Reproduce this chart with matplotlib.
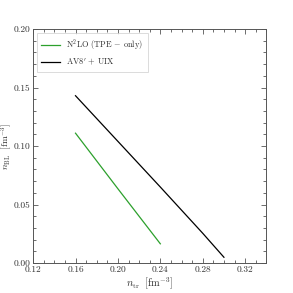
import numpy as np
import matplotlib
matplotlib.use('Agg')
import matplotlib.pyplot as plt
from matplotlib.ticker import MultipleLocator

plt.rcParams['font.family'] = 'serif'
plt.rcParams['font.serif'] = ['cmr10']
plt.rcParams['mathtext.fontset'] = 'cm'
plt.rcParams['axes.formatter.use_mathtext'] = True
plt.rcParams['font.size'] = 6.5

# N2LO (TPE-only)
n_tr_n2lo = [0.16, 0.20, 0.24]
n_bl_n2lo = [0.111, 0.0635, 0.0165]

# AV8' + UIX
n_tr_av8 = [0.16, 0.20, 0.24, 0.28, 0.30]
n_bl_av8 = [0.143, 0.104, 0.065, 0.0255, 0.005]

fig = plt.figure(figsize=(2.93, 2.93), dpi=100)
ax = fig.add_axes([0.113, 0.102, 0.796, 0.799])

ax.plot(n_tr_n2lo, n_bl_n2lo, color='#2ca02c', lw=0.9, label=r'N$^2$LO (TPE $-$ only)')
ax.plot(n_tr_av8, n_bl_av8, color='black', lw=0.9, label=r"AV8$'$ + UIX")

ax.set_xlim(0.12, 0.34)
ax.set_ylim(0.0, 0.20)
ax.xaxis.set_major_locator(MultipleLocator(0.04))
ax.xaxis.set_minor_locator(MultipleLocator(0.01))
ax.yaxis.set_major_locator(MultipleLocator(0.05))
ax.yaxis.set_minor_locator(MultipleLocator(0.01))
ax.xaxis.set_major_formatter(plt.FuncFormatter(lambda v, p: '%.2f' % v))
ax.yaxis.set_major_formatter(plt.FuncFormatter(lambda v, p: '%.2f' % v))
ax.tick_params(which='both', direction='in', top=True, right=True, colors='#555555',
               labelcolor='#333333', width=0.6, labelsize=6.8, pad=2)
ax.tick_params(which='major', length=3.5)
ax.tick_params(which='minor', length=2)
for s in ax.spines.values():
    s.set_color('#555555')
    s.set_linewidth(0.7)

ax.set_xlabel(r'$n_{\rm tr}\ \ [{\rm fm}^{-3}]$', fontsize=7.5, labelpad=1, color='#333333')
ax.set_ylabel(r'$n_{\rm BL}\ \ [{\rm fm}^{-3}]$', fontsize=6.8, color='#333333')
ax.yaxis.set_label_coords(-0.08, 0.5)

leg = ax.legend(loc='upper left', fontsize=6, frameon=True, fancybox=False,
                handlelength=2.2, borderpad=0.5, labelspacing=0.5)
leg.get_frame().set_edgecolor('#cccccc')
leg.get_frame().set_linewidth(0.6)
for t in leg.get_texts():
    t.set_color('#333333')

fig.savefig('out.png', dpi=100)
